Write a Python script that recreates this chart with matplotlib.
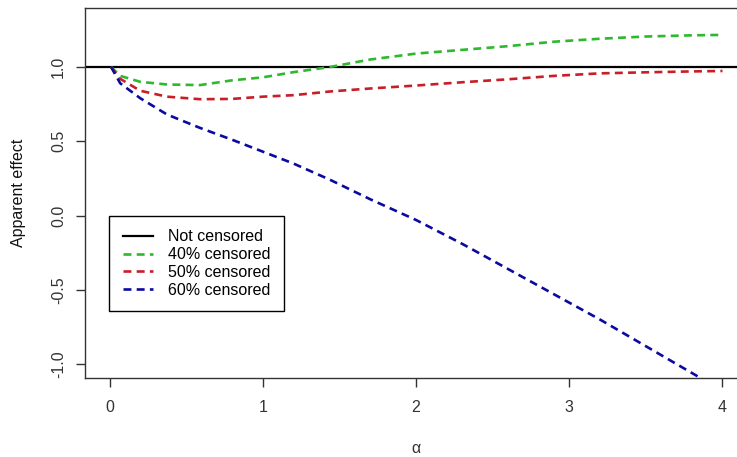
import matplotlib
matplotlib.use("Agg")
import matplotlib.pyplot as plt

plt.rcParams['font.family'] = ['Liberation Sans', 'DejaVu Sans']

# values
alpha = [0.01, 0.07, 0.2, 0.375, 0.59, 0.8, 1.0, 1.2, 1.44, 1.7, 2.0, 2.3,
         2.6, 2.9, 3.2, 3.5, 3.8, 4.0]
cens40 = [1.0, 0.94, 0.90, 0.882, 0.878, 0.91, 0.93, 0.965, 1.0, 1.05, 1.09, 1.115,
          1.14, 1.17, 1.19, 1.205, 1.213, 1.216]
cens50 = [1.0, 0.92, 0.84, 0.80, 0.783, 0.785, 0.80, 0.81, 0.835, 0.855, 0.875, 0.897,
          0.917, 0.94, 0.957, 0.964, 0.97, 0.973]
cens60 = [1.0, 0.89, 0.79, 0.68, 0.59, 0.51, 0.43, 0.35, 0.24, 0.11, -0.03, -0.19,
          -0.36, -0.53, -0.70, -0.88, -1.06, -1.18]
xticks = [0, 1, 2, 3, 4]
yticks = [-1.0, -0.5, 0.0, 0.5, 1.0]

fig = plt.figure(figsize=(7.37, 4.57), dpi=100)
ax = fig.add_axes([85 / 737, 1 - 378 / 457, 662 / 737, 370 / 457])

dash = (3.0, 2.0)
ax.axhline(1.0, color='black', lw=1.6, label='Not censored')
ax.plot(alpha, cens40, color='#2eb82e', lw=1.9, dashes=dash, label='40% censored')
ax.plot(alpha, cens50, color='#c81e28', lw=1.9, dashes=dash, label='50% censored')
ax.plot(alpha, cens60, color='#0a0aa0', lw=1.9, dashes=dash, label='60% censored')

ax.set_xlim(-0.16, 4.16)
ax.set_ylim(-1.094, 1.397)
ax.set_xticks(xticks)
ax.set_xticklabels([str(v) for v in xticks])
ax.set_yticks(yticks)
ax.set_yticklabels(['%.1f' % v for v in yticks], rotation=90, va='center')

for s in ax.spines.values():
    s.set_color('#333333')
    s.set_linewidth(1.0)
ax.spines['right'].set_visible(False)
ax.tick_params(length=6.5, width=1.0, color='#333333', labelsize=11.5,
               labelcolor='#333333')
ax.tick_params(axis='x', pad=9.5)
ax.tick_params(axis='y', pad=7)

ax.set_xlabel('α', fontsize=11.5, color='#333333')
ax.xaxis.set_label_coords(0.5, -0.19)
ax.xaxis.label.set_va('center')
ax.set_ylabel('Apparent effect', fontsize=11.5, color='#111111')
ax.yaxis.set_label_coords(-0.1, 0.5)
ax.yaxis.label.set_va('center')

leg = ax.legend(loc='upper left', bbox_to_anchor=(0.0363, 0.4386), borderaxespad=0,
                fancybox=False, edgecolor='black', framealpha=1, fontsize=11.5,
                handlelength=1.9, handletextpad=0.95, labelspacing=0.18,
                borderpad=0.85)
leg.get_frame().set_linewidth(1.0)

fig.savefig('out.png', dpi=100)
